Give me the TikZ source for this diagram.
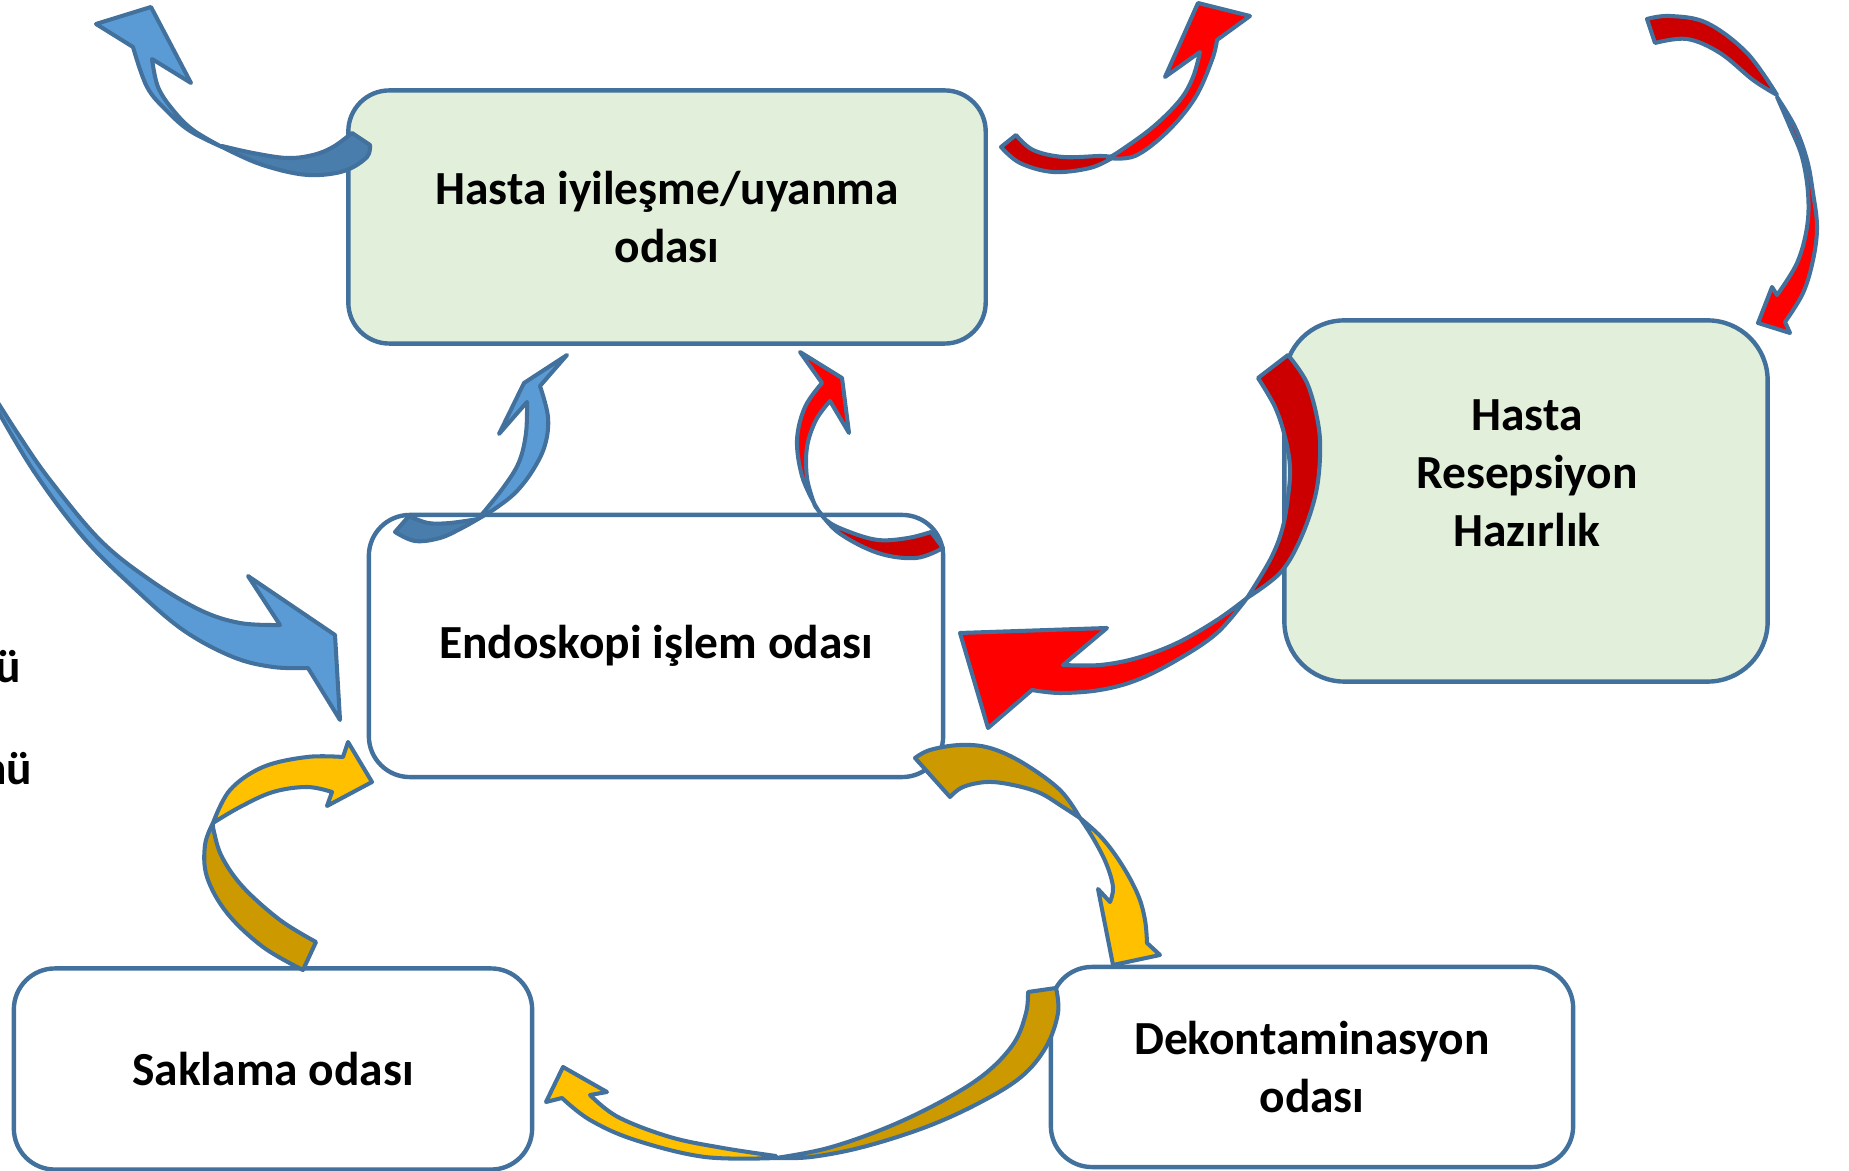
\documentclass[tikz,border=0pt]{standalone}
\usepackage{fontspec}
\setmainfont{Carlito}
\definecolor{edgeblue}{HTML}{41719C}
\definecolor{roomgreen}{HTML}{E2EFDA}
\definecolor{blueA}{HTML}{5B9BD5}
\definecolor{blueB}{HTML}{497DAC}
\definecolor{redA}{HTML}{FF0000}
\definecolor{redB}{HTML}{CC0000}
\definecolor{goldA}{HTML}{FFC000}
\definecolor{goldB}{HTML}{CC9A00}
\newcommand{\roomfont}{\fontsize{13.5}{16.5}\selectfont\bfseries}
\tikzset{
	room/.style={draw=edgeblue, line width=1.25pt, rounded corners=0.41cm, fill=white, align=center, font=\roomfont, inner sep=0pt},
	band/.style={draw=edgeblue, line width=1.15pt, line join=round},
	bandcurve/.style={smooth, tension=0.6},
}

\begin{document}
\begin{tikzpicture}[x=0.01cm, y=-0.01cm]
	\useasboundingbox (0,0) rectangle (1849,1171);
	%%%%% ROOMS %%%%%
	
	\node[room, fill=roomgreen, minimum width=6.37cm, minimum height=2.53cm] (recovery) at (667,217) {Hasta iyileşme/uyanma\\odası};
	\node[room, fill=roomgreen, minimum width=4.83cm, minimum height=3.61cm, rounded corners=0.6cm] (reception) at (1526,501) {};
	\node[align=center, font=\roomfont, inner sep=0pt] (receptiontext) at (1527,473) {Hasta\\Resepsiyon\\Hazırlık};
	\node[room, minimum width=5.74cm, minimum height=2.62cm] (procedure) at (656,646) {Endoskopi işlem odası};
	\node[room, minimum width=5.18cm, minimum height=2.01cm] (storage) at (273,1069) {Saklama odası};
	\node[room, minimum width=5.22cm, minimum height=2.00cm] (decon) at (1312,1067) {Dekontaminasyon\\odası};
	
	\node[anchor=base east, font=\roomfont, inner sep=0pt] (cutA) at (22,683) {ü};
	\node[anchor=base east, font=\roomfont, inner sep=0pt] (cutB) at (33,785) {nü};
	
	%%%%% ARROWS %%%%%
	
	% recovery -> out, blue
	\filldraw[band, fill=blueB] plot[bandcurve] coordinates {(352,133) (333,147) (313,155) (287,158) (253,153) (222,146)} -- plot[bandcurve] coordinates {(222,147) (257,163) (293,173) (320,175) (347,170) (367,157) (370,145)} -- cycle;
	\filldraw[band, fill=blueA] (133,47) -- (96,24) -- (151,7) -- (191,83) -- (152,59) -- plot[bandcurve] coordinates {(152,59) (158,87) (173,110) (193,130) (222,147)} -- plot[bandcurve] coordinates {(222,147) (190,131) (167,111) (147,87) (133,47)} -- cycle;
	
	% recovery -> out, red
	\filldraw[band, fill=redB] plot[bandcurve] coordinates {(1016,135) (1033,150) (1063,157) (1100,156) (1112,157)} -- plot[bandcurve] coordinates {(1112,158) (1090,168) (1053,172) (1020,163) (1001,147)} -- cycle;
	\filldraw[band, fill=redA] (1217,40) -- (1250,16) -- (1198,3) -- (1165,77) -- (1200,52) -- plot[bandcurve] coordinates {(1200,52) (1193,77) (1180,100) (1153,127) (1120,151) (1108,158)} -- plot[bandcurve] coordinates {(1108,158) (1135,156) (1167,132) (1195,98) (1212,60) (1217,40)} -- cycle;
	
	% in -> reception, red
	\filldraw[band, fill=redB] plot[bandcurve] coordinates {(1647,19) (1670,16) (1707,23) (1747,53) (1777,95)} -- plot[bandcurve] coordinates {(1777,95) (1753,80) (1720,53) (1687,39) (1655,43)} -- cycle;
	\filldraw[band, fill=redA] (1785,322) -- (1790,333) -- (1758,323) -- (1772,287) -- (1777,295) -- plot[bandcurve] coordinates {(1777,295) (1797,263) (1807,227) (1808,193) (1802,157) (1790,127) (1777,97)} -- plot[bandcurve] coordinates {(1777,97) (1795,127) (1807,160) (1813,193) (1817,227) (1813,260) (1803,293) (1785,322)} -- cycle;
	
	% procedure -> recovery, blue
	\filldraw[band, fill=blueB] plot[bandcurve] coordinates {(409,516) (428,523) (450,523) (478,519)} -- plot[bandcurve] coordinates {(478,519) (462,528) (440,538) (415,541) (395,532)} -- cycle;
	\filldraw[band, fill=blueA] (540,386) -- (567,355) -- (524,383) -- (499,434) -- (527,402) -- plot[bandcurve] coordinates {(527,402) (526,433) (519,462) (503,488) (478,519)} -- plot[bandcurve] coordinates {(478,519) (496,508) (516,492) (533,470) (545,445) (548,417) (540,386)} -- cycle;
	
	% procedure -> recovery, red
	\filldraw[band, fill=redB] plot[bandcurve] coordinates {(814,503) (826,520) (847,531) (878,540) (908,538) (931,532)} -- (943,548) -- plot[bandcurve] coordinates {(943,548) (916,558) (878,553) (839,533) (818,510) (814,503)} -- cycle;
	\filldraw[band, fill=redA] (822,383) -- (800,352) -- (842,378) -- (849,433) -- (830,401) -- plot[bandcurve] coordinates {(830,401) (816,420) (807,447) (807,478) (814,503)} -- plot[bandcurve] coordinates {(814,503) (802,476) (797,440) (805,407) (822,383)} -- cycle;
	
	% reception -> procedure, red
	\filldraw[band, fill=redB] plot[bandcurve] coordinates {(1247,598) (1270,560) (1282,530) (1288,497) (1290,467) (1285,437) (1275,407) (1258,378)} -- (1288,355) -- plot[bandcurve] coordinates {(1288,355) (1307,383) (1318,423) (1320,457) (1315,497) (1300,540) (1280,573) (1247,598)} -- cycle;
	\filldraw[band, fill=redA] (1032,690) -- (988,728) -- (960,633) -- (1107,628) -- (1063,665) -- plot[bandcurve] coordinates {(1063,665) (1100,665) (1137,658) (1177,643) (1217,620) (1247,598)} -- plot[bandcurve] coordinates {(1247,598) (1217,633) (1177,660) (1137,680) (1100,690) (1060,693) (1032,690)} -- cycle;
	
	% in -> procedure, blue
	\filldraw[band, fill=blueA] plot[bandcurve] coordinates {(-10,390) (20,437) (50,480) (100,540) (150,580) (200,610) (240,623) (280,625)} -- (248,576) -- (335,635) -- (340,720) -- (308,668) -- plot[bandcurve] coordinates {(308,668) (273,667) (233,657) (183,630) (133,587) (83,537) (33,470) (-10,397)} -- cycle;
	
	% storage -> procedure, gold
	\filldraw[band, fill=goldB] plot[bandcurve] coordinates {(213,823) (205,845) (207,877) (227,913) (263,947) (303,970)} -- (316,942) -- plot[bandcurve] coordinates {(316,942) (280,920) (243,887) (222,857) (214,832) (213,823)} -- cycle;
	\filldraw[band, fill=goldA] plot[bandcurve] coordinates {(213,823) (230,790) (263,767) (307,757) (343,757)} -- (348,742) -- (372,782) -- (327,806) -- (332,792) -- plot[bandcurve] coordinates {(332,792) (307,787) (273,792) (240,807) (213,823)} -- cycle;
	
	% procedure -> decon, gold
	\filldraw[band, fill=goldB] plot[bandcurve] coordinates {(915,758) (930,750) (960,745) (990,748) (1023,763) (1060,790) (1080,818)} -- plot[bandcurve] coordinates {(1080,818) (1063,807) (1040,793) (1013,785) (987,782) (963,787) (950,797)} -- cycle;
	\filldraw[band, fill=goldA] plot[bandcurve] coordinates {(1080,818) (1093,838) (1106,863) (1113,887) (1110,902)} -- (1098,889) -- (1113,965) -- (1160,955) -- (1147,943) -- plot[bandcurve] coordinates {(1147,943) (1145,920) (1138,895) (1122,865) (1102,838) (1080,818)} -- cycle;
	
	% decon -> storage, gold
	\filldraw[band, fill=goldB] plot[bandcurve] coordinates {(1056,988) (1058,1013) (1046,1047) (1021,1077) (979,1103) (926,1127) (863,1147) (811,1157) (776,1158)} -- plot[bandcurve] coordinates {(776,1158) (828,1148) (888,1127) (944,1100) (986,1073) (1014,1043) (1026,1013) (1028,992)} -- cycle;
	\filldraw[band, fill=goldA] plot[bandcurve] coordinates {(776,1156) (723,1148) (670,1137) (618,1117) (590,1095)} -- (607,1092) -- (563,1067) -- (546,1102) -- (562,1098) -- plot[bandcurve] coordinates {(562,1098) (590,1120) (635,1140) (705,1157) (776,1158)} -- cycle;
	
	%%%%% END %%%%%
\end{tikzpicture}
\end{document}
